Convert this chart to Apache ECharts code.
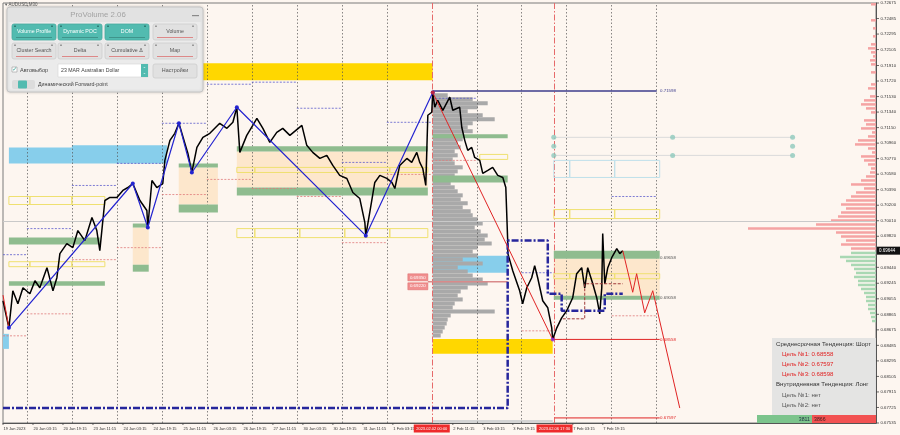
<!DOCTYPE html>
<html>
<head>
<meta charset="utf-8">
<title>AUDUSD M30 ProVolume</title>
<script src="https://cdn.jsdelivr.net/npm/echarts@6.0.0/dist/echarts.min.js"></script>
<style>
  html, body { margin: 0; padding: 0; background: #fdf6f0; }
  #chart { width: 900px; height: 435px; }
</style>
</head>
<body>
<div id="chart"></div>
<script>
// x = trading hours from 19 Jan 2023 00:00 (weekends skipped), y = AUDUSD price

const X_MIN = 11.25
const X_MAX = 477
const Y_MIN = 0.67535
const Y_MAX = 0.72675
const CUR_PRICE = 0.69644

const xTickHours = [11.25, 27.25, 43.25, 59.25, 75.25, 91.25, 107.25, 123.25, 139.25, 155.25, 171.25, 187.25, 203.25, 219.25, 251.25, 267.25, 283.25, 315.25, 331.25]
const xTickLabels = ['19 Jan 2023', '20 Jan 03:15', '20 Jan 19:15', '23 Jan 11:15', '24 Jan 03:15', '24 Jan 19:15', '25 Jan 11:15', '26 Jan 03:15', '26 Jan 19:15', '27 Jan 11:15', '30 Jan 03:15', '30 Jan 19:15', '31 Jan 11:15', '1 Feb 03:15', '2 Feb 11:15', '3 Feb 03:15', '3 Feb 19:15', '7 Feb 03:15', '7 Feb 19:15']
const yTickValues = [0.72675, 0.72485, 0.72295, 0.72105, 0.71910, 0.71720, 0.71530, 0.71340, 0.71150, 0.70960, 0.70770, 0.70580, 0.70390, 0.70200, 0.70010, 0.69820, 0.69440, 0.69245, 0.69055, 0.68865, 0.68675, 0.68485, 0.68295, 0.68105, 0.67915, 0.67725, 0.67535]
const dayLines = [24, 48, 72, 96, 120, 144, 168, 192, 216, 264, 288, 312, 336, 360]
const markerHours = [240, 305.5]
const markerLabels = ['2023.02.02 00:00', '2023.02.06 17:30']

const pricePath = [
  [11.25, 0.69031], [14.4, 0.68700], [16.5, 0.69154], [19.2, 0.68994], [21.9, 0.69190], [25.6, 0.69117], [28.3, 0.69276], [30.9, 0.69190],
  [34.7, 0.69436], [37.9, 0.69154], [40, 0.69313], [41.6, 0.69608], [45.3, 0.69730], [48.5, 0.69681], [51.2, 0.69890], [54.9, 0.69767],
  [58.7, 0.70049], [61.3, 0.69890], [62.9, 0.69644], [65.6, 0.70258], [68.3, 0.70295], [72, 0.70295], [75.2, 0.70381], [77.9, 0.70417],
  [80.5, 0.70466], [84.3, 0.70258], [88, 0.70135], [88.5, 0.69927], [90.7, 0.70503], [93.3, 0.70417], [96.5, 0.70466], [97.6, 0.70749],
  [100.3, 0.70994], [102.9, 0.71080], [105.1, 0.71203], [108.3, 0.70957], [109.9, 0.70835], [112, 0.70601], [114.7, 0.70908], [117.9, 0.71031],
  [121.6, 0.71080], [126.9, 0.71203], [130.7, 0.71141], [133.9, 0.71215], [136, 0.71399], [137.6, 0.70847], [141.3, 0.71055], [144.5, 0.71178],
  [146.7, 0.71264], [149.9, 0.71141], [153.6, 0.70970], [157.3, 0.71092], [160.5, 0.71141], [164.3, 0.71055], [170.7, 0.71178], [173.3, 0.70933],
  [176.5, 0.70847], [180.3, 0.70773], [184, 0.70810], [187.2, 0.70687], [190.9, 0.70565], [194.7, 0.70528], [197.9, 0.70356], [201.6, 0.70282],
  [204.3, 0.69988], [204.8, 0.69828], [206.9, 0.70111], [209.6, 0.70479], [212.3, 0.70565], [216, 0.70528], [218.7, 0.70479], [220.3, 0.70405],
  [222.9, 0.70687], [226.7, 0.70773], [229.3, 0.70724], [232, 0.70847], [233.6, 0.70724], [235.2, 0.70650], [236.8, 0.70442], [237.9, 0.71301],
  [240, 0.71338], [240.5, 0.71580], [241.6, 0.71399], [243.2, 0.71485], [245.9, 0.71362], [249.6, 0.71522], [251.2, 0.71362], [254.9, 0.71399],
  [256, 0.71154], [257.6, 0.70994], [259.2, 0.70871], [261.3, 0.70908], [262.9, 0.70785], [265.6, 0.70749], [267.2, 0.70589], [269.9, 0.70626],
  [272.5, 0.70663], [275.2, 0.70565], [277.9, 0.70540], [279.5, 0.70417], [280.5, 0.69767], [280.6, 0.69608], [283.2, 0.69399], [286.9, 0.69154],
  [288.5, 0.68994], [290.7, 0.69190], [293.3, 0.69313], [294.9, 0.69460], [296.5, 0.69313], [299.2, 0.69031], [301.9, 0.68945], [304, 0.68700],
  [304.5, 0.68558], [306.7, 0.68700], [309.3, 0.68822], [312, 0.68908], [315.2, 0.69068], [317.3, 0.69362], [320, 0.69436], [321.6, 0.69190],
  [323.2, 0.69436], [325.9, 0.69239], [328, 0.69068], [329.6, 0.68871], [330.7, 0.69190], [331.2, 0.69853], [332.3, 0.69239], [333.9, 0.69436],
  [336, 0.69558], [338.7, 0.69669], [340.3, 0.69608], [341.9, 0.69644]
]

const waveUp = [[14.4, 0.68700], [80.5, 0.70466], [88.5, 0.69927], [105.1, 0.71203], [112, 0.70601], [136, 0.71399], [204.8, 0.69828], [240.5, 0.71580]]
const waveDown = [[240.5, 0.71580], [304.5, 0.68558]]
const waveDownOld = [[11.25, 0.69100], [14.4, 0.68700]]
const forecast = [[341.9, 0.69644], [347.2, 0.69135], [349.3, 0.69362], [353.6, 0.68883], [357.9, 0.69154], [372.3, 0.67718]]
const navyStep = [[11.25, 0.67718], [280.5, 0.67718], [280.5, 0.69767], [301.9, 0.69767], [301.9, 0.69117], [309.3, 0.69117], [309.3, 0.68908], [332.3, 0.68908], [332.3, 0.69117], [341.9, 0.69117]]
const brownStep = [[309.9, 0.68810], [321.6, 0.68810], [321.6, 0.69239], [341.9, 0.69239]]

const targetLines = [[240.5, 360, 0.71598], [304.5, 361.6, 0.68558], [305.6, 361.6, 0.67597]]
const priceTags = [[361.8, 0.71598, '0.71598'], [361.8, 0.69560, '0.69658'], [361.8, 0.69070, '0.69058'], [361.8, 0.68558, '0.68558'], [361.8, 0.67597, '0.67597']]
const pocLine = [[237.9, 0.69264], [280.5, 0.69264]]
const pocTags = [[237.9, 0.69318, '0.69350'], [237.9, 0.69208, '0.69220']]
const tealDots = [[305.1, 0.71031], [368.5, 0.71031], [432.5, 0.71031], [305.1, 0.70921], [432.5, 0.70921], [305.1, 0.70810], [368.5, 0.70810], [432.5, 0.70810]]
const tealLines = [[305.1, 432.5, 0.71031], [305.1, 432.5, 0.70810]]

// zones: [from, to, top price, bottom price]
const goldZones = [[117.9, 240.5, 0.71939, 0.71730], [240.5, 304.5, 0.68564, 0.68381]]
const blueZones = [[14.4, 48, 0.70908, 0.70712], [48, 98.7, 0.70933, 0.70712], [240.5, 280.5, 0.69583, 0.69374], [11.25, 14.4, 0.68626, 0.68442]]
const peachZones = [[80.5, 89, 0.69927, 0.69472], [105, 125.9, 0.70663, 0.70209], [136, 237.9, 0.70859, 0.70417], [305.1, 361.6, 0.69546, 0.69092]]
const greenZones = [
  [14.4, 62.9, 0.69804, 0.69718], [14.4, 65.6, 0.69270, 0.69215],
  [80.5, 89, 0.69976, 0.69927], [80.5, 89, 0.69472, 0.69387],
  [105, 125.9, 0.70712, 0.70663], [105, 125.9, 0.70209, 0.70111],
  [136, 237.9, 0.70921, 0.70859], [136, 237.9, 0.70417, 0.70319],
  [240.5, 280.5, 0.71068, 0.71019], [240.5, 280.5, 0.70565, 0.70479],
  [305.1, 361.6, 0.69644, 0.69546], [305.1, 361.6, 0.69092, 0.69043]
]
const yellowBoxes = [
  [14.4, 25.6, 0.70307, 0.70209], [25.6, 48, 0.70307, 0.70209], [48, 65.6, 0.70307, 0.70209],
  [14.4, 25.6, 0.69509, 0.69448], [25.6, 48, 0.69509, 0.69448], [48, 65.6, 0.69509, 0.69448],
  [136, 145.6, 0.70663, 0.70601], [145.6, 193.6, 0.70663, 0.70601], [193.6, 217.6, 0.70663, 0.70601], [217.6, 237.9, 0.70663, 0.70601],
  [136, 145.6, 0.69914, 0.69804], [145.6, 169.6, 0.69914, 0.69804], [169.6, 193.6, 0.69914, 0.69804], [193.6, 217.6, 0.69914, 0.69804], [217.6, 237.9, 0.69914, 0.69804],
  [265.6, 280.5, 0.70822, 0.70761],
  [305.1, 313.6, 0.70147, 0.70037], [313.6, 337.6, 0.70147, 0.70037], [337.6, 361.6, 0.70147, 0.70037],
  [305.1, 313.6, 0.69362, 0.69301], [313.6, 337.6, 0.69362, 0.69301], [337.6, 361.6, 0.69362, 0.69301]
]
const cyanBoxes = [[305.1, 313.6, 0.70749, 0.70540], [313.6, 337.6, 0.70749, 0.70540], [337.6, 361.6, 0.70749, 0.70540]]
const greyBand = [[240.5, 304.5, 0.67571, 0.67535]]

// daily high / low levels: [from, to, price]
const highLevels = [[11.25, 24, 0.69595], [24, 48, 0.69914], [48, 72, 0.70442], [72, 96, 0.70712], [96, 120, 0.71203], [120, 144, 0.71681], [144, 168, 0.71706], [168, 192, 0.71387], [192, 216, 0.70724], [216, 240, 0.71215], [240, 264, 0.71509], [288, 305, 0.69374], [336, 360, 0.70307]]
const lowLevels = [[11.25, 24, 0.68602], [24, 48, 0.68871], [48, 72, 0.69534], [72, 96, 0.69681], [96, 120, 0.70331], [120, 144, 0.70516], [144, 168, 0.70405], [168, 192, 0.70307], [192, 216, 0.69742], [216, 240, 0.70577], [240, 264, 0.70749], [288, 305, 0.68663], [336, 360, 0.68847]]

// volume profile of the current session (starts at 2 Feb) and of the whole chart (right edge)
const PROFILE_START = 240.5
const PROFILE_TOP = 0.71546
const BIN = 0.00049
const profileVol = [
  15, 40, 55, 45, 35, 50, 62, 40, 35, 40,
  30, 30, 25, 28, 22, 25, 20, 22, 30, 25,
  22, 20, 18, 22, 25, 30, 28, 35, 30, 38,
  40, 45, 50, 42, 48, 55, 52, 59, 45, 40,
  45, 30, 50, 25, 35, 40, 50, 55, 35, 28,
  25, 30, 22, 20, 62, 18, 15, 14, 12, 10,
  8
]
const SELL_TOP = 0.72650
const sellVol = [
  5, 0, 0, 0, 5, 0, 3, 0, 3, 0,
  5, 8, 5, 3, 6, 5, 0, 5, 0, 0,
  5, 8, 0, 6, 12, 15, 10, 5, 0, 12,
  10, 15, 4, 8, 18, 21, 8, 4, 15, 12,
  8, 5, 6, 10, 15, 25, 12, 20, 25, 30,
  35, 30, 35, 38, 45, 60, 128, 40, 35, 30,
  35, 25
]
const BUY_TOP = 0.69607
const buyVol = [25, 36, 30, 25, 22, 20, 22, 18, 18, 15, 12, 10, 10, 8, 8, 6, 5, 4]
const VOL_TO_HOURS = 0.5335

const infoLines = [
  ['Среднесрочная Тенденция: Шорт', '#333', 0],
  ['Цель №1: 0.68558', '#e02020', 6],
  ['Цель №2: 0.67597', '#e02020', 6],
  ['Цель №3: 0.68598', '#e02020', 6],
  ['Внутридневная Тенденция: Лонг', '#333', 0],
  ['Цель №1: нет', '#555', 6],
  ['Цель №2: нет', '#555', 6]
]
const deltaBuy = '3811'
const deltaSell = '3866'

const panelButtons = [
  ['Volume Profile', true], ['Dynamic POC', true], ['DOM', true], ['Volume', false],
  ['Cluster Search', false], ['Delta', false], ['Cumulative Δ', false], ['Map', false]
]

const FONT = '"Liberation Sans", "DejaVu Sans", sans-serif'

function boxes (data, style, z) {
  return {
    type: 'custom', data, z, silent: true, clip: false,
    renderItem (params, api) {
      const a = api.coord([api.value(0), api.value(2)])
      const b = api.coord([api.value(1), api.value(3)])
      return { type: 'rect', shape: { x: a[0], y: a[1], width: b[0] - a[0], height: b[1] - a[1] }, style: Object.assign({}, style) }
    }
  }
}

function levels (data, color, z) {
  return {
    type: 'custom', data, z, silent: true, clip: false,
    renderItem (params, api) {
      const a = api.coord([api.value(0), api.value(2)])
      const b = api.coord([api.value(1), api.value(2)])
      return { type: 'line', shape: { x1: a[0], y1: a[1], x2: b[0], y2: b[1] }, style: { stroke: color, lineWidth: 0.8, lineDash: [2, 1.5] } }
    }
  }
}

function profile (top, vols, fromRight, color, z) {
  return {
    type: 'custom', z, silent: true, clip: false,
    data: vols.map((v, i) => [top - i * BIN, v]),
    renderItem (params, api) {
      const p = api.value(0)
      const v = api.value(1)
      if (!v) return null
      const len = v * VOL_TO_HOURS
      const t0 = fromRight ? X_MAX - len : PROFILE_START
      const t1 = fromRight ? X_MAX : PROFILE_START + len
      const a = api.coord([t0, p + BIN * 0.5])
      const b = api.coord([t1, p - BIN * 0.5])
      const h = fromRight ? Math.min(2.5, b[1] - a[1]) : b[1] - a[1]
      return { type: 'rect', shape: { x: a[0], y: a[1], width: b[0] - a[0], height: h }, style: { fill: color } }
    }
  }
}

function polyline (data, color, width, type, z, extra) {
  return Object.assign({
    type: 'line', data, z, silent: true, showSymbol: false, symbol: 'none',
    lineStyle: { color, width, type: type || 'solid' }
  }, extra || {})
}

const series = [
  // grid, day separators, current price
  {
    type: 'line', data: [], z: 1, silent: true,
    markLine: {
      silent: true, symbol: 'none', animation: false, label: { show: false },
      data: dayLines.map(d => ({ xAxis: d, lineStyle: { color: '#555', width: 0.7, type: [1.5, 2] } }))
        .concat(markerHours.map(d => ({ xAxis: d, lineStyle: { color: '#e66a6a', width: 1, type: [6, 2, 1.5, 2] } })))
        .concat([{ yAxis: CUR_PRICE, lineStyle: { color: '#c9c9c9', width: 1, type: 'solid' } }])
    }
  },
  boxes(peachZones, { fill: 'rgba(252, 226, 192, 0.75)' }, 2),
  boxes(goldZones, { fill: '#ffd700' }, 3),
  boxes(blueZones, { fill: '#87ceeb' }, 3),
  boxes(greyBand, { fill: '#d4d4d4' }, 3),
  profile(PROFILE_TOP, profileVol, false, '#a9a9a9', 4),
  boxes(greenZones, { fill: '#8fbc8f' }, 5),
  boxes(yellowBoxes, { fill: 'none', stroke: '#efe070', lineWidth: 1 }, 6),
  boxes(cyanBoxes, { fill: 'none', stroke: '#bfe0ea', lineWidth: 1 }, 6),
  levels(highLevels, '#5a5acc', 6),
  levels(lowLevels, '#e07a7a', 6),
  profile(SELL_TOP, sellVol, true, '#f5a3a3', 4),
  profile(BUY_TOP, buyVol, true, '#a9d8b3', 4),
  polyline(pocLine, '#d98a8a', 1.5, 'solid', 6),
  ...tealLines.map(l => polyline([[l[0], l[2]], [l[1], l[2]]], '#dadada', 1, 'solid', 6)),
  {
    type: 'scatter', data: tealDots, z: 7, silent: true, symbolSize: 5,
    itemStyle: { color: '#8ec9bd' }
  },
  polyline(pricePath, '#000', 1.5, 'solid', 8),
  polyline(navyStep, '#26269c', 2.5, [7, 2, 2, 2], 9),
  polyline(brownStep, '#a03a3a', 1, [3, 1.5], 9),
  ...targetLines.map((l, i) => polyline([[l[0], l[2]], [l[1], l[2]]], i === 0 ? '#3c3c8c' : '#e02424', i === 0 ? 1.5 : 1, 'solid', 9)),
  polyline(waveDownOld, '#e02424', 1, 'solid', 10),
  polyline(waveDown, '#e02424', 1, 'solid', 10),
  polyline(forecast, '#e02424', 1, 'solid', 10),
  polyline(waveUp, '#2424d0', 1.2, 'solid', 11, {
    showSymbol: true, symbol: 'circle', symbolSize: 4, itemStyle: { color: '#2424d0' }
  }),
  {
    type: 'scatter', z: 12, silent: true, symbolSize: 4,
    data: [
      { value: waveDown[0], itemStyle: { color: '#e02424' } },
      { value: waveDown[1], itemStyle: { color: '#8a2be2' } }
    ]
  },
  // text tags at the end of level lines
  {
    type: 'custom', z: 13, silent: true, clip: false,
    data: priceTags.map(t => [t[0], t[1]]),
    renderItem (params, api) {
      const c = api.coord([api.value(0), api.value(1)])
      const i = params.dataIndex
      const color = i === 0 ? '#3c3c8c' : (i >= 3 ? '#e02424' : '#555')
      return { type: 'text', x: c[0], y: c[1], style: { text: priceTags[i][2], fill: color, font: '4.4px ' + FONT, verticalAlign: 'middle' } }
    }
  },
  // POC price boxes left of the profile
  {
    type: 'custom', z: 13, silent: true, clip: false,
    data: pocTags.map(t => [t[0], t[1]]),
    renderItem (params, api) {
      const c = api.coord([api.value(0), api.value(1)])
      return {
        type: 'group',
        children: [
          { type: 'rect', shape: { x: c[0] - 20, y: c[1] - 3.5, width: 20, height: 7 }, style: { fill: '#f08f8f', stroke: '#d66', lineWidth: 0.5 } },
          { type: 'text', x: c[0] - 10, y: c[1], style: { text: pocTags[params.dataIndex][2], fill: '#fff', font: '4.4px ' + FONT, align: 'center', verticalAlign: 'middle' } }
        ]
      }
    }
  },
  // price axis ticks and labels
  {
    type: 'custom', z: 20, silent: true, clip: false,
    data: yTickValues.map(v => [X_MAX, v]),
    renderItem (params, api) {
      const c = api.coord([api.value(0), api.value(1)])
      return {
        type: 'group',
        children: [
          { type: 'line', shape: { x1: c[0], y1: c[1], x2: c[0] + 3, y2: c[1] }, style: { stroke: '#444', lineWidth: 0.8 } },
          { type: 'text', x: c[0] + 4.5, y: c[1], style: { text: yTickValues[params.dataIndex].toFixed(5), fill: '#333', font: '4.3px ' + FONT, verticalAlign: 'middle' } }
        ]
      }
    }
  },
  // time axis ticks and labels
  {
    type: 'custom', z: 20, silent: true, clip: false,
    data: xTickHours.map(h => [h, Y_MIN]),
    renderItem (params, api) {
      const c = api.coord([api.value(0), api.value(1)])
      return {
        type: 'group',
        children: [
          { type: 'line', shape: { x1: c[0], y1: c[1], x2: c[0], y2: c[1] + 2 }, style: { stroke: '#444', lineWidth: 0.8 } },
          { type: 'text', x: c[0] + 0.5, y: c[1] + 3.5, style: { text: xTickLabels[params.dataIndex], fill: '#333', font: '4px ' + FONT, verticalAlign: 'top' } }
        ]
      }
    }
  },
  // red time markers on the time axis
  {
    type: 'custom', z: 21, silent: true, clip: false,
    data: markerHours.map(h => [h, Y_MIN]),
    renderItem (params, api) {
      const c = api.coord([api.value(0), api.value(1)])
      return {
        type: 'group',
        children: [
          { type: 'rect', shape: { x: c[0] - 18, y: c[1] + 1.5, width: 36, height: 8 }, style: { fill: '#ee2b2b' } },
          { type: 'text', x: c[0], y: c[1] + 5.6, style: { text: markerLabels[params.dataIndex], fill: '#fff', font: '4px ' + FONT, align: 'center', verticalAlign: 'middle' } }
        ]
      }
    }
  },
  // current price tag
  {
    type: 'custom', z: 22, silent: true, clip: false,
    data: [[X_MAX, CUR_PRICE]],
    renderItem (params, api) {
      const c = api.coord([api.value(0), api.value(1)])
      return {
        type: 'group',
        children: [
          { type: 'rect', shape: { x: c[0] + 1, y: c[1] - 4, width: 23, height: 8 }, style: { fill: '#111' } },
          { type: 'text', x: c[0] + 3, y: c[1], style: { text: CUR_PRICE.toFixed(5), fill: '#fff', font: '4.5px ' + FONT, verticalAlign: 'middle' } }
        ]
      }
    }
  }
]

// ProVolume control panel
const panel = [
  { type: 'text', x: 5, y: 5, style: { text: '▾ AUDUSD,M30', fill: '#555', font: '4.5px ' + FONT, verticalAlign: 'middle' } },
  { type: 'rect', shape: { x: 7, y: 7, width: 196, height: 85, r: 3 }, style: { fill: '#ebebeb', stroke: '#c6c6c6', lineWidth: 1, shadowBlur: 3, shadowColor: 'rgba(0,0,0,0.18)' } },
  { type: 'rect', shape: { x: 8, y: 8, width: 194, height: 14, r: [3, 3, 0, 0] }, style: { fill: '#e2e2e2' } },
  { type: 'text', x: 98, y: 15, style: { text: 'ProVolume 2.06', fill: '#a3a3a3', font: '7.8px ' + FONT, align: 'center', verticalAlign: 'middle' } },
  { type: 'rect', shape: { x: 192, y: 15, width: 7, height: 1.2 }, style: { fill: '#8a8a8a' } }
]
const colX = [12, 58, 105, 153]
const rowY = [24, 43]
panelButtons.forEach((b, i) => {
  const x = colX[i % 4]
  const y = rowY[Math.floor(i / 4)]
  panel.push({ type: 'rect', shape: { x, y, width: 44, height: 16, r: 2 }, style: { fill: b[1] ? '#52bbb0' : '#e1e1e1', stroke: b[1] ? '#48a99f' : '#cdcdcd', lineWidth: 0.8 } })
  panel.push({ type: 'rect', shape: { x: x + 2, y: y + 1.5, width: 2, height: 1.5 }, style: { fill: b[1] ? '#2e7d75' : '#999' } })
  panel.push({ type: 'rect', shape: { x: x + 39, y: y + 1.5, width: 2, height: 1.5 }, style: { fill: b[1] ? '#2e7d75' : '#999' } })
  panel.push({ type: 'rect', shape: { x: x + 4, y: y + 13, width: 36, height: 1 }, style: { fill: b[1] ? '#3f948b' : '#d88' } })
  panel.push({ type: 'text', x: x + 22, y: y + 8, style: { text: b[0], fill: b[1] ? '#fff' : '#555', font: '5.3px ' + FONT, align: 'center', verticalAlign: 'middle' } })
})
panel.push(
  { type: 'rect', shape: { x: 12, y: 67, width: 5, height: 5 }, style: { fill: '#fff', stroke: '#999', lineWidth: 0.6 } },
  { type: 'text', x: 12.3, y: 69.5, style: { text: '✓', fill: '#2a9d8f', font: '6px ' + FONT, verticalAlign: 'middle' } },
  { type: 'text', x: 20, y: 70, style: { text: 'Автовыбор', fill: '#444', font: '5.5px ' + FONT, verticalAlign: 'middle' } },
  { type: 'rect', shape: { x: 58, y: 64, width: 90, height: 13 }, style: { fill: '#fff', stroke: '#d5d5d5', lineWidth: 0.6 } },
  { type: 'rect', shape: { x: 141, y: 64, width: 7, height: 13 }, style: { fill: '#52bbb0' } },
  { type: 'text', x: 144.5, y: 70.5, style: { text: '⌃\n⌄', fill: '#fff', font: '4px ' + FONT, align: 'center', verticalAlign: 'middle', lineHeight: 4 } },
  { type: 'text', x: 61, y: 70.5, style: { text: '23 MAR Australian Dollar', fill: '#444', font: '5.2px ' + FONT, verticalAlign: 'middle' } },
  { type: 'rect', shape: { x: 153, y: 64, width: 44, height: 14, r: 2 }, style: { fill: '#e1e1e1', stroke: '#cdcdcd', lineWidth: 0.8 } },
  { type: 'text', x: 175, y: 71, style: { text: 'Настройки', fill: '#555', font: '5.4px ' + FONT, align: 'center', verticalAlign: 'middle' } },
  { type: 'rect', shape: { x: 12, y: 80, width: 23, height: 9, r: 2 }, style: { fill: '#dcdcdc' } },
  { type: 'rect', shape: { x: 18, y: 80.5, width: 9, height: 8, r: 1 }, style: { fill: '#52bbb0' } },
  { type: 'text', x: 38, y: 85, style: { text: 'Динамический Forward-point', fill: '#444', font: '5.3px ' + FONT, verticalAlign: 'middle' } }
)

// trend info box in the lower right corner
const info = [
  { type: 'rect', shape: { x: 772, y: 338, width: 104, height: 77 }, style: { fill: 'rgba(226,226,226,0.93)' } }
]
infoLines.forEach((l, i) => {
  info.push({ type: 'text', x: 776 + l[2], y: 344 + i * 10.2, style: { text: l[0], fill: l[1], font: '6.1px ' + FONT, verticalAlign: 'middle' } })
})
info.push(
  { type: 'rect', shape: { x: 757, y: 415, width: 55, height: 8 }, style: { fill: '#7cc48c' } },
  { type: 'rect', shape: { x: 812, y: 415, width: 64, height: 8 }, style: { fill: '#f25252' } },
  { type: 'text', x: 810, y: 419.3, style: { text: deltaBuy, fill: '#234', font: '5.2px ' + FONT, align: 'right', verticalAlign: 'middle' } },
  { type: 'text', x: 814, y: 419.3, style: { text: deltaSell, fill: '#402020', font: '5.2px ' + FONT, verticalAlign: 'middle' } }
)

const chart = echarts.init(document.getElementById('chart'))
chart.setOption({
  animation: false,
  backgroundColor: '#fdf6f0',
  grid: { left: 3, right: 24, top: 3, bottom: 12, show: true, borderColor: '#7a7a7a', borderWidth: 1 },
  xAxis: {
    type: 'value', min: X_MIN, max: X_MAX,
    axisLine: { show: true, onZero: false, lineStyle: { color: '#555' } },
    axisTick: { show: false }, axisLabel: { show: false }, splitLine: { show: false }
  },
  yAxis: {
    type: 'value', position: 'right', min: Y_MIN, max: Y_MAX, scale: true,
    axisLine: { show: true, onZero: false, lineStyle: { color: '#555' } },
    axisTick: { show: false }, axisLabel: { show: false }, splitLine: { show: false }
  },
  series,
  graphic: { elements: info.concat(panel).map(e => Object.assign({ silent: true, z: 100 }, e)) }
})
</script>
</body>
</html>
